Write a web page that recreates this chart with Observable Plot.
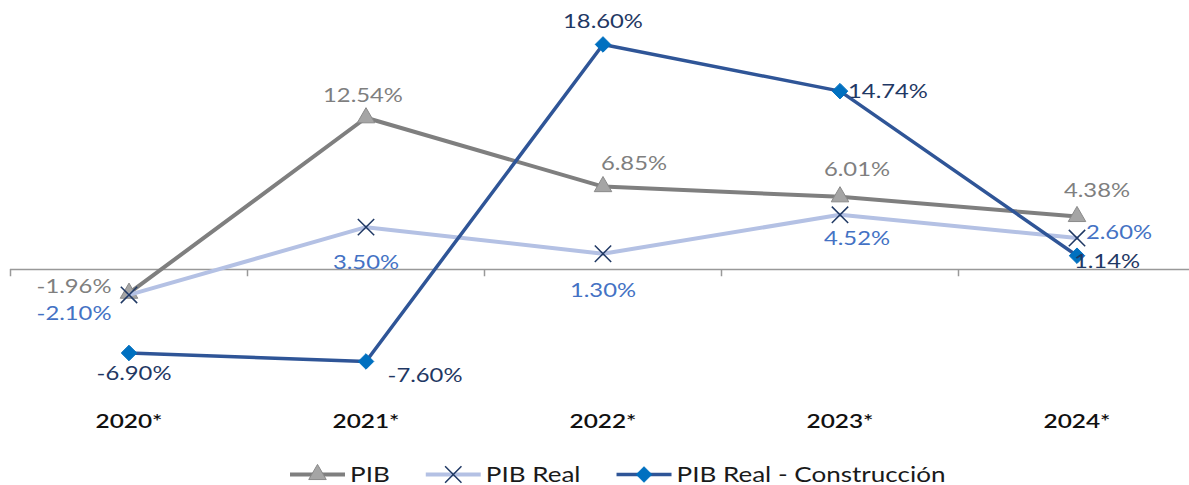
<!DOCTYPE html>
<html>
<head>
<meta charset="utf-8">
<script src="https://cdn.jsdelivr.net/npm/d3@7"></script>
<script src="https://cdn.jsdelivr.net/npm/@observablehq/plot@0.6"></script>
<style>
  body { margin: 0; background: #fff; font-family: Lato, sans-serif; }
  #wrap { position: relative; width: 1189px; height: 485px; overflow: hidden; }
  #wrap svg { display: block; }
</style>
</head>
<body>
<div id="wrap"><div id="chart"></div><div id="legend"></div></div>
<script>
// ---- data ----
const years = ["2020*", "2021*", "2022*", "2023*", "2024*"];
const pib = [-1.96, 12.54, 6.85, 6.01, 4.38];
const pibReal = [-2.10, 3.50, 1.30, 4.52, 2.60];
const pibConstruccion = [-6.90, -7.60, 18.60, 14.74, 1.14];
const seriesNames = ["PIB", "PIB Real", "PIB Real - Construcción"];

// ---- label placement (pixel offsets from each point) ----
const pibLabelOffsets = [[-55, -7], [-3, -22], [31, -23], [17, -27], [20, -26]];
const pibRealLabelOffsets = [[-55, 19], [0, 35], [0, 37], [17, 24], [42, -5]];
const constLabelOffsets = [[5, 21], [59, 14], [0, -23], [48, 0], [30, 6]];

const series = [
  { name: seriesNames[0], values: pib, offsets: pibLabelOffsets,
    line: "#7f7f7f", width: 4, symbol: "triangle", r: 6.5, fill: "#a5a5a5", mstroke: "#8a8a8a", mwidth: 1, label: "#7f7f7f" },
  { name: seriesNames[1], values: pibReal, offsets: pibRealLabelOffsets,
    line: "#b4c1e4", width: 4, symbol: "times", r: 7.5, fill: "none", mstroke: "#1f3864", mwidth: 1.5, label: "#4472c4" },
  { name: seriesNames[2], values: pibConstruccion, offsets: constLabelOffsets,
    line: "#2f5597", width: 3.5, symbol: "diamond2", r: 7, fill: "#0070c0", mstroke: "#0070c0", mwidth: 1, label: "#1f3864" }
];

const rows = s => years.map((year, i) => ({ year, value: s.values[i] }));

const marks = [
  Plot.ruleY([0], { stroke: "#999999", strokeWidth: 1.5 }),
  Plot.ruleX(years, { x: d => d, dx: -118.5, y1: 0, y2: -0.6, stroke: "#999999", strokeWidth: 1.5 }),
  Plot.text(years, { x: d => d, frameAnchor: "bottom", lineAnchor: "middle", dy: -24, text: d => d,
    fontSize: 20, fontWeight: 600, fill: "#111", className: "yearlab" })
];

for (const s of series) {
  const data = rows(s);
  marks.push(Plot.line(data, { x: "year", y: "value", stroke: s.line, strokeWidth: s.width }));
  marks.push(Plot.dot(data, { x: "year", y: "value", symbol: s.symbol, r: s.r,
    fill: s.fill, stroke: s.mstroke, strokeWidth: s.mwidth }));
}
for (const s of series) {
  rows(s).forEach((d, i) => {
    marks.push(Plot.text([d], { x: "year", y: "value", text: d => d.value.toFixed(2) + "%",
      dx: s.offsets[i][0], dy: s.offsets[i][1], fill: s.label, fontSize: 20, className: "vallab" }));
  });
}

const chart = Plot.plot({
  width: 1189,
  height: 445,
  marginLeft: 10, marginRight: 0, marginTop: 0, marginBottom: 0,
  style: { fontFamily: "Lato, sans-serif", background: "#fff" },
  x: { type: "band", domain: years, range: [10, 1195], padding: 0, axis: null },
  y: { domain: [-10, 20], range: [390, 27], axis: null },
  marks
});
document.getElementById("chart").appendChild(chart);

// widen the glyphs horizontally (the reference text is stretched)
d3.select(chart).selectAll("g.vallab text").each(function () {
  const t = this.getAttribute("transform") || "";
  this.setAttribute("transform", t + " scale(1.19,1)");
});
d3.select(chart).selectAll("g.yearlab text").each(function () {
  const t = this.getAttribute("transform") || "";
  this.setAttribute("transform", t + " scale(1.22,1)");
});

// ---- legend (SVG) ----
const symMap = { triangle: d3.symbolTriangle, times: d3.symbolTimes, diamond2: d3.symbolDiamond2 };
const leg = d3.create("svg").attr("width", 1189).attr("height", 40)
  .style("font-family", "Lato, sans-serif").style("font-size", "21px");
document.getElementById("legend").appendChild(leg.node());
let lx = 290;
for (const s of series) {
  const g = leg.append("g").attr("transform", `translate(${lx},0)`);
  g.append("line").attr("x1", 0).attr("x2", 55).attr("y1", 29.5).attr("y2", 29.5)
    .attr("stroke", s.line).attr("stroke-width", s.width);
  g.append("path").attr("transform", "translate(27.5,29.5)")
    .attr("d", d3.symbol(symMap[s.symbol], Math.PI * s.r * s.r)())
    .attr("fill", s.fill).attr("stroke", s.mstroke).attr("stroke-width", s.mwidth);
  const t = g.append("text").attr("x", 60).attr("y", 37).attr("fill", "#1a1a1a").text(s.name);
  const w = t.node().getComputedTextLength() * 1.24;
  t.attr("textLength", w).attr("lengthAdjust", "spacingAndGlyphs");
  lx += 60 + w + 36;
}
</script>
</body>
</html>
